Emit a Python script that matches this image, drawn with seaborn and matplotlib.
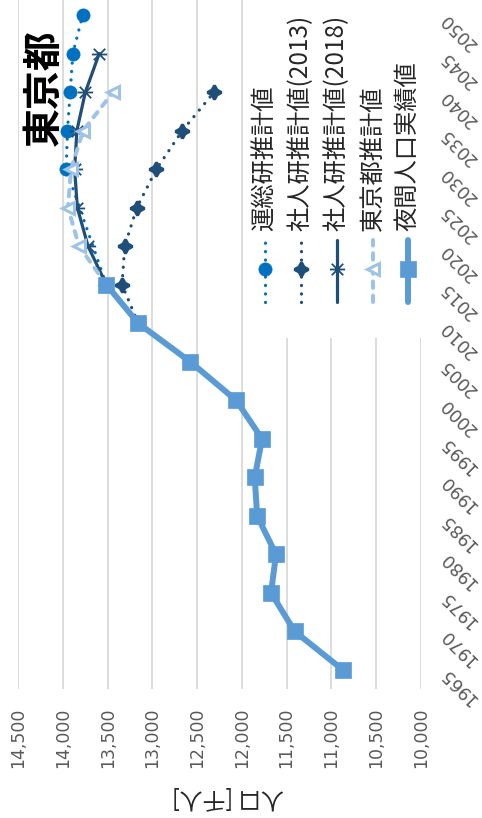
import matplotlib
matplotlib.use("Agg")
import matplotlib.pyplot as plt
import seaborn as sns
import pandas as pd
from matplotlib.lines import Line2D
from matplotlib.patches import Rectangle
from matplotlib.path import Path

# ---- data (population in thousands) ----
years_actual = [1965, 1970, 1975, 1980, 1985, 1990, 1995, 2000, 2005, 2010, 2015]
pop_actual = [10869, 11408, 11674, 11618, 11829, 11856, 11774, 12064, 12577, 13159, 13515]

years_unsoken = [2015, 2030, 2035, 2040, 2045, 2050]
pop_unsoken = [13515, 13965, 13950, 13920, 13890, 13780]

years_ipss2013 = [2010, 2015, 2020, 2025, 2030, 2035, 2040]
pop_ipss2013 = [13159, 13340, 13310, 13175, 12955, 12665, 12310]

years_ipss2018 = [2015, 2020, 2025, 2030, 2035, 2040, 2045]
pop_ipss2018 = [13515, 13720, 13840, 13870, 13845, 13750, 13595]

years_tokyo = [2015, 2020, 2025, 2030, 2035, 2040]
pop_tokyo = [13515, 13820, 13945, 13910, 13775, 13440]

series_labels = ["運総研推計値", "社人研推計値(2013)", "社人研推計値(2018)",
                 "東京都推計値", "夜間人口実績値"]
year_ticks = list(range(1965, 2051, 5))
value_ticks = list(range(10000, 14501, 500))
title_text = "東京都"
value_axis_label = "人口 [千人]"

# ---- style ----
sns.set_theme(style="white")
plt.rcParams["font.family"] = ["DejaVu Sans", "Noto Sans CJK JP"]
JP = ["Noto Sans CJK JP", "DejaVu Sans"]

W, H = 482, 818
fig = plt.figure(figsize=(W / 100, H / 100), dpi=100)
fig.patch.set_facecolor("white")


def fx(px):
    return px / W


def fy(py):
    return 1 - py / H


# plot area: values run right-to-left, years bottom-to-top
left_px, right_px = 18.3, 420.7
top_px, bottom_px = -4.25, 689.25
ax = fig.add_axes([fx(left_px), fy(bottom_px), (right_px - left_px) / W,
                   (bottom_px - top_px) / H])
ax.set_facecolor("white")

# asterisk marker: X with a crossing bar
ast_path = Path(
    [(-1, 0), (1, 0), (-0.75, -0.75), (0.75, 0.75), (-0.75, 0.75), (0.75, -0.75)],
    [Path.MOVETO, Path.LINETO, Path.MOVETO, Path.LINETO, Path.MOVETO, Path.LINETO],
)

c_unsoken = "#0070C0"
c_navy = "#1F4E79"
c_tokyo = "#9DC3E6"
c_actual = "#5B9BD5"

styles = [
    dict(color=c_unsoken, lw=2.3, linestyle=(0, (0.05, 2.6)), dash_capstyle="round",
         marker="o", markersize=9.5, markerfacecolor=c_unsoken, markeredgecolor=c_unsoken,
         markeredgewidth=0.5),
    dict(color=c_navy, lw=2.3, linestyle=(0, (0.05, 2.6)), dash_capstyle="round",
         marker=(4, 1, 0), markersize=10, markerfacecolor=c_navy, markeredgecolor=c_navy,
         markeredgewidth=2.2),
    dict(color=c_navy, lw=2.3, linestyle="-", solid_capstyle="round",
         marker=ast_path, markersize=11, markerfacecolor="none", markeredgecolor=c_navy,
         markeredgewidth=1.3),
    dict(color=c_tokyo, lw=2.9, linestyle=(0, (1.6, 1.9)), dash_capstyle="round",
         marker="<", markersize=9, markerfacecolor="white", markeredgecolor=c_tokyo,
         markeredgewidth=2.2),
    dict(color=c_actual, lw=4.3, linestyle="-", solid_capstyle="round",
         marker="s", markersize=11, markerfacecolor=c_actual, markeredgecolor=c_actual,
         markeredgewidth=0.5),
]

series = [
    (pop_unsoken, years_unsoken),
    (pop_ipss2013, years_ipss2013),
    (pop_ipss2018, years_ipss2018),
    (pop_tokyo, years_tokyo),
    (pop_actual, years_actual),
]

for i, ((vals, yrs), st) in enumerate(zip(series, styles)):
    df = pd.DataFrame({"pop": vals, "year": yrs})
    sns.lineplot(data=df, x="pop", y="year", sort=False, estimator=None, ax=ax,
                 zorder=3 + i, **st)

ax.set_xlim(14500, 10000)
ax.set_ylim(1962.5, 2052.5)
ax.set_xlabel("")
ax.set_ylabel("")

ax.set_xticks(value_ticks)
ax.set_xticklabels([f"{v:,}" for v in value_ticks], rotation=90, fontsize=12.5,
                   color="#595959")
ax.tick_params(axis="x", length=0, pad=13.5)

ax.set_yticks(year_ticks)
ax.tick_params(axis="y", length=0, labelleft=False, labelright=True, pad=16)
ax.set_yticklabels([str(y) for y in year_ticks], rotation=135, rotation_mode="anchor",
                   ha="right", va="center", fontsize=12.5, color="#595959")

ax.grid(axis="x", color="#D9D9D9", lw=1.3)
ax.grid(axis="y", visible=False)
ax.set_axisbelow(True)
for s in ax.spines.values():
    s.set_visible(False)

# legend panel (white box over the lower gridlines)
ax.add_patch(Rectangle((fx(246), fy(338)), fx(432) - fx(246), fy(-10) - fy(338),
                       transform=fig.transFigure, facecolor="white", edgecolor="none",
                       zorder=2, clip_on=False))

leg_x = [265, 301, 337, 372.5, 407.5]
for x, lab, st in zip(leg_x, series_labels, styles):
    line_kw = {k: v for k, v in st.items() if not k.startswith("marker")}
    fig.add_artist(Line2D([fx(x), fx(x)], [fy(302), fy(240)], transform=fig.transFigure,
                          zorder=10, **line_kw))
    mk = {k: v for k, v in st.items() if k.startswith("marker")}
    fig.add_artist(Line2D([fx(x)], [fy(269)], transform=fig.transFigure, linestyle="none",
                          zorder=11, **mk))
    fig.text(fx(x), fy(231), lab, rotation=90, ha="center", va="bottom",
             fontsize=17.5, family=JP, color="#262626", zorder=12)

# chart title
fig.text(fx(44), fy(88), title_text, rotation=90, ha="center", va="center",
         fontsize=28, fontweight="bold", family=JP, color="black")

# value axis title
fig.text(fx(228), fy(798), value_axis_label, rotation=180, ha="center", va="center",
         fontsize=16.5, family=JP, color="#262626")

fig.savefig("out.png", dpi=100, facecolor="white")
